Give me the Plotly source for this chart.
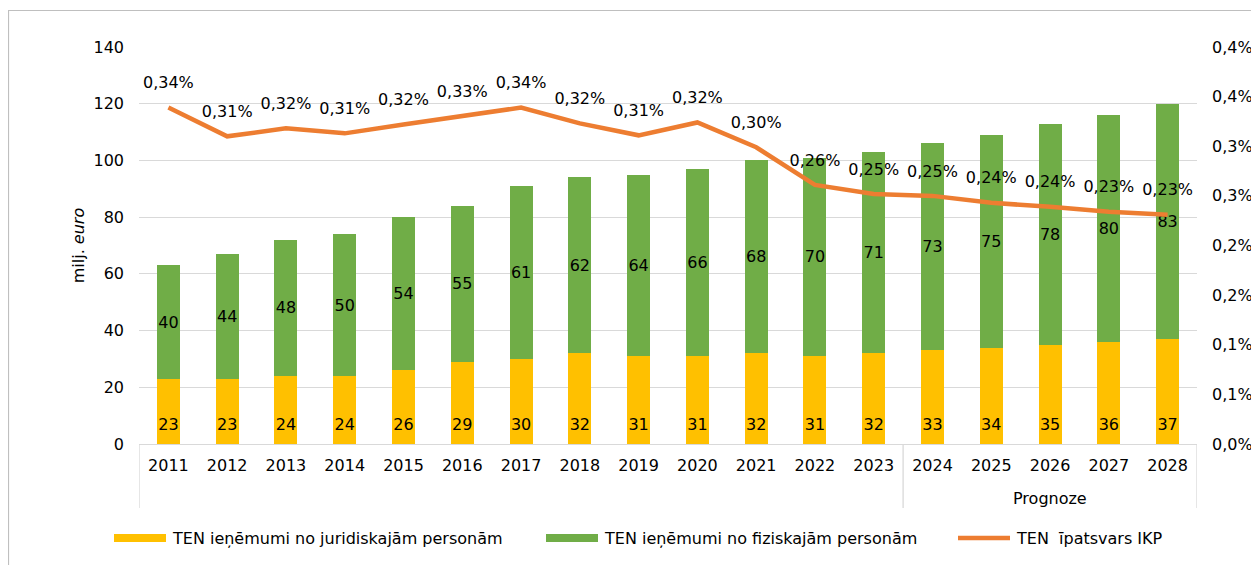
import plotly.graph_objects as go

years = ["2011", "2012", "2013", "2014", "2015", "2016", "2017", "2018", "2019",
         "2020", "2021", "2022", "2023", "2024", "2025", "2026", "2027", "2028"]
groups = [""] * 13 + ["Prognoze"] * 5

juridical = [23, 23, 24, 24, 26, 29, 30, 32, 31, 31, 32, 31, 32, 33, 34, 35, 36, 37]
physical = [40, 44, 48, 50, 54, 55, 61, 62, 64, 66, 68, 70, 71, 73, 75, 78, 80, 83]
share_pct = [0.339, 0.310, 0.318, 0.313, 0.322, 0.330, 0.339, 0.323, 0.311, 0.324,
             0.299, 0.261, 0.252, 0.250, 0.243, 0.239, 0.234, 0.231]
share_labels = ["0,34%", "0,31%", "0,32%", "0,31%", "0,32%", "0,33%", "0,34%", "0,32%",
                "0,31%", "0,32%", "0,30%", "0,26%", "0,25%", "0,25%", "0,24%", "0,24%",
                "0,23%", "0,23%"]

y2_tickvals = [0, 0.05, 0.10, 0.15, 0.20, 0.25, 0.30, 0.35, 0.40]
y2_ticktext = ["0,0%", "0,1%", "0,1%", "0,2%", "0,2%", "0,3%", "0,3%", "0,4%", "0,4%"]

legend_names = ["TEN ieņēmumi no juridiskajām personām",
                "TEN ieņēmumi no fiziskajām personām",
                "TEN  īpatsvars IKP"]

YELLOW = "#FFC000"
GREEN = "#70AD47"
ORANGE = "#ED7D31"
GRID = "#D9D9D9"
FONT = "DejaVu Sans"
FS = 16

# page geometry (the page body adds an 8px offset)
OFF = 8
PW, PH = 1259, 565
L, R, T, B = 139, 1197, 47, 444
W, H = PW - OFF, PH - OFF

def px(x):
    return (x - L) / (R - L)

def py(y):
    return (B - y) / (B - T)

n = len(years)
idx = list(range(n))

fig = go.Figure()
fig.add_trace(go.Bar(
    x=idx, y=juridical, name=legend_names[0], marker=dict(color=YELLOW, line=dict(width=0)),
    showlegend=False, hoverinfo="y",
))
fig.add_trace(go.Bar(
    x=idx, y=physical, name=legend_names[1], marker=dict(color=GREEN, line=dict(width=0)),
    text=[str(v) for v in physical], textposition="inside", insidetextanchor="middle",
    textangle=0, textfont=dict(family=FONT, size=FS, color="black"), showlegend=False,
))
# labels of the juridical segment, placed at the bar base ("inside base")
fig.add_trace(go.Scatter(
    x=idx, y=[0 for _ in juridical], mode="markers+text",
    marker=dict(size=14, color="rgba(0,0,0,0)"),
    text=[str(v) for v in juridical], textposition="top center",
    textfont=dict(family=FONT, size=FS, color="black"),
    showlegend=False, hoverinfo="skip", cliponaxis=False,
))
fig.add_trace(go.Scatter(
    x=idx, y=share_pct, yaxis="y2", name=legend_names[2], mode="lines+markers+text",
    line=dict(color=ORANGE, width=4.5),
    marker=dict(size=23, color="rgba(0,0,0,0)"),
    text=share_labels, textposition="top center",
    textfont=dict(family=FONT, size=FS, color="black"),
    cliponaxis=False, showlegend=False,
))

shapes = []
annotations = []

# group dividers and group labels under the category axis
bounds = [-0.5]
for i in range(1, n):
    if groups[i] != groups[i - 1]:
        bounds.append(i - 0.5)
bounds.append(n - 0.5)
for b in bounds:
    shapes.append(dict(type="line", xref="x", yref="paper", x0=b, x1=b,
                       y0=0, y1=py(508), line=dict(color=GRID, width=1.3)))
for a, b in zip(bounds[:-1], bounds[1:]):
    g = groups[int(a + 0.5)]
    if g:
        annotations.append(dict(xref="x", yref="paper", x=(a + b) / 2, y=py(498),
                                text=g, showarrow=False, xanchor="center", yanchor="middle",
                                font=dict(family=FONT, size=FS, color="black")))

# Manual legend
leg_y = 538
items = [(114, 166, YELLOW, "bar"), (546, 598, GREEN, "bar"), (958, 1010, ORANGE, "line")]
for (x0, x1, col, kind), name in zip(items, legend_names):
    if kind == "bar":
        shapes.append(dict(type="rect", xref="paper", yref="paper",
                           x0=px(x0), x1=px(x1), y0=py(leg_y + 4), y1=py(leg_y - 4),
                           fillcolor=col, line=dict(width=0)))
    else:
        shapes.append(dict(type="line", xref="paper", yref="paper",
                           x0=px(x0), x1=px(x1), y0=py(leg_y), y1=py(leg_y),
                           line=dict(color=col, width=4.5)))
    annotations.append(dict(xref="paper", yref="paper", x=px(x1 + 4), y=py(leg_y),
                            text=name, showarrow=False, xanchor="left", yanchor="middle",
                            font=dict(family=FONT, size=FS, color="black")))

# Outer chart border (top and left edges visible)
shapes.append(dict(type="path", xref="paper", yref="paper",
                   path=f"M {px(8.5)} {py(PH + 5)} L {px(8.5)} {py(10.5)} L {px(PW + 5)} {py(10.5)}",
                   line=dict(color="#BFBFBF", width=1.2)))

fig.update_layout(
    width=W, height=H,
    margin=dict(l=L - OFF, r=PW - R, t=T - OFF, b=PH - B, autoexpand=False),
    paper_bgcolor="white", plot_bgcolor="white",
    barmode="stack", bargap=0.61,
    font=dict(family=FONT, size=FS, color="black"),
    uniformtext=dict(mode="show", minsize=FS),
    xaxis=dict(type="linear", range=[-0.5, n - 0.5], tickvals=idx, ticktext=years,
               showline=True, linecolor=GRID, linewidth=1.3, ticks="",
               ticklabelstandoff=7, showgrid=False, zeroline=False,
               tickfont=dict(family=FONT, size=FS, color="black")),
    yaxis=dict(range=[0, 140], dtick=20, showgrid=True, gridcolor=GRID, gridwidth=1.3,
               zeroline=False, showline=False, ticklabelstandoff=14,
               tickfont=dict(family=FONT, size=FS, color="black"),
               title=dict(text="milj. <i>euro</i>", standoff=4,
                          font=dict(family=FONT, size=FS, color="black"))),
    yaxis2=dict(overlaying="y", side="right", range=[0, 0.4], tickvals=y2_tickvals,
                ticktext=y2_ticktext, showgrid=False, zeroline=False, showline=False,
                ticklabelstandoff=14,
                tickfont=dict(family=FONT, size=FS, color="black")),
    shapes=shapes, annotations=annotations,
)

fig.write_html("out.html")
